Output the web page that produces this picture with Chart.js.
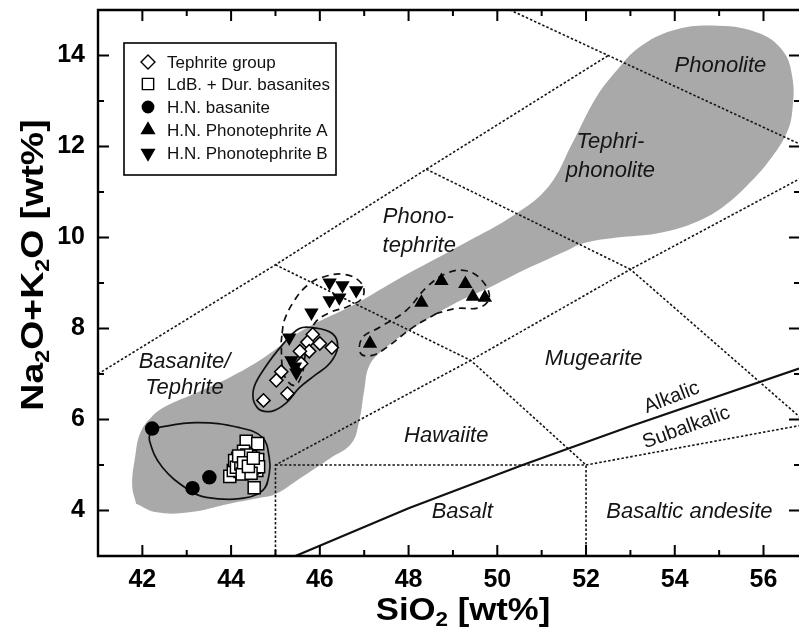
<!DOCTYPE html>
<html><head><meta charset="utf-8">
<script src="https://cdn.jsdelivr.net/npm/chart.js@4.4.1/dist/chart.umd.min.js"></script>
<style>html,body{margin:0;padding:0;background:#fff;overflow:hidden}canvas{display:block}</style>
</head><body><canvas id="c" width="799" height="631"></canvas>
<script>
// ---------- tick labels ----------
const xTicks = [42, 44, 46, 48, 50, 52, 54, 56];
const yTicks = [4, 6, 8, 10, 12, 14];

// ---------- sample series [SiO2, Na2O+K2O] ----------
const tephriteGroup = [[45.84,7.87],[46.00,7.67],[46.27,7.58],[45.72,7.70],[45.76,7.50],[45.55,7.50],[45.58,7.23],[45.13,7.05],[45.02,6.86],[45.27,6.57],[44.73,6.42]];
const ldbDurBasanites = [[44.34,5.52],[44.60,5.47],[44.28,5.30],[43.97,4.75],[44.52,4.50],[44.58,4.88],[44.10,5.00],[44.18,5.08],[44.25,4.93],[44.30,5.12],[44.36,5.00],[44.42,5.06],[44.47,4.92],[44.52,5.10],[44.44,5.18],[44.20,4.86],[44.33,4.84],[44.56,5.00],[44.15,5.15],[44.05,4.88],[44.08,5.10],[44.12,4.95],[44.22,5.02],[44.27,5.18],[44.32,4.95],[44.38,5.12],[44.40,4.88],[44.48,5.02],[44.53,4.95],[44.60,5.12],[44.62,4.96],[44.35,5.22],[44.25,4.80],[44.45,4.82],[44.17,5.20],[44.28,5.05],[44.39,4.97],[44.50,5.15]];
const hnBasanite = [[42.22,5.80],[43.13,4.49],[43.51,4.73]];
const hnPhonotephriteA = [[47.13,7.67],[48.29,8.57],[48.74,9.05],[49.28,8.98],[49.45,8.70],[49.72,8.68]];
const hnPhonotephriteB = [[46.22,9.01],[46.51,8.95],[46.82,8.84],[46.22,8.62],[46.44,8.68],[45.81,8.35],[45.31,7.80],[45.36,7.30],[45.44,7.16],[45.47,7.03]];

// ---------- field of literature data (grey area) ----------
const greyField = [[41.86,4.15],[41.77,4.55],[41.84,5.20],[41.95,5.70],[42.20,6.05],[42.55,6.30],[43.22,6.59],[43.96,6.92],[44.71,7.34],[45.61,7.96],[46.82,8.55],[47.79,9.10],[49.08,9.78],[50.43,10.53],[51.17,11.14],[51.69,12.07],[52.23,13.08],[52.69,13.67],[53.20,14.18],[53.95,14.55],[54.85,14.66],[55.84,14.51],[56.43,14.11],[56.65,13.52],[56.65,12.79],[56.52,12.29],[56.13,11.69],[55.68,11.19],[55.07,10.66],[54.40,10.31],[53.59,10.09],[52.69,10.00],[51.92,9.87],[51.56,9.71],[50.57,9.27],[49.82,8.90],[49.08,8.57],[48.09,8.00],[47.46,7.56],[47.12,7.19],[47.00,6.64],[46.89,5.98],[46.71,5.47],[46.22,5.14],[45.54,4.70],[45.02,4.37],[44.71,4.29],[43.96,4.15],[43.06,3.96],[42.32,3.96],[41.86,4.15]];

// ---------- group envelopes ----------
const basaniteEnvelope = [[42.20,5.80],[43.22,5.93],[44.19,5.82],[44.71,5.60],[44.86,5.16],[44.86,4.81],[44.71,4.44],[44.19,4.26],[43.44,4.29],[43.06,4.44],[42.45,4.95],[42.16,5.54],[42.20,5.80]];
const tephriteEnvelope = [[45.90,6.98],[45.54,6.70],[45.25,6.37],[44.91,6.18],[44.59,6.26],[44.50,6.64],[44.75,7.12],[45.20,7.69],[45.54,8.00],[45.83,8.02],[46.28,7.89],[46.40,7.58],[46.22,7.23],[45.90,6.98]];
const phonoBEnvelope = [[45.15,7.90],[45.20,8.18],[45.43,8.62],[45.72,8.95],[46.04,9.12],[46.55,9.19],[46.94,8.99],[46.96,8.68],[46.62,8.48],[46.22,8.35],[45.88,8.11],[45.70,7.63],[45.61,7.03],[45.43,6.75],[45.20,6.97],[45.13,7.63],[45.15,7.90]];
const phonoAEnvelope = [[48.63,8.33],[48.09,8.02],[47.50,7.58],[47.18,7.41],[46.92,7.45],[46.96,7.80],[47.34,8.02],[47.95,8.40],[48.40,8.90],[48.85,9.21],[49.30,9.27],[49.66,9.05],[49.82,8.68],[49.60,8.46],[49.08,8.44],[48.63,8.33]];

// ---------- TAS boundaries ----------
const tasBoundaries = [
  [[41,7],[45,9.4],[48.4,11.5],[52.5,14]],
  [[50,15.13],[52.5,14],[57.6,11.7]],
  [[48.4,11.5],[53,9.3],[57.6,11.7]],
  [[45,9.4],[49.4,7.3],[52,5],[52,3]],
  [[45,3],[45,5],[49.4,7.3],[53,9.3],[57,5.9]],
  [[45,5],[52,5],[57,5.9]]
];
const alkalicLine = [[45.45,3.0],[48.0,4.05],[50.57,5.0],[53.0,5.85],[56.8,7.12]];

// ---------- labels ----------
const regionNames = ["Phonolite","Tephri-","phonolite","Phono-","tephrite","Basanite/","Tephrite","Mugearite","Hawaiite","Basalt","Basaltic andesite"];
const regionX = [55.03,52.55,52.55,48.22,48.24,42.95,42.95,52.17,48.85,49.21,54.33];
const regionY = [13.78,12.11,11.47,10.46,9.82,7.27,6.70,7.34,5.63,3.96,3.96];
const seriesNames = ["Alkalic","Subalkalic"];
const seriesX = [53.93,54.26];
const seriesY = [6.48,5.82];
const seriesAngle = [-21,-20];

const legendNames = ["Tephrite group","LdB. + Dur. basanites","H.N. basanite","H.N. Phonotephrite A","H.N. Phonotephrite B"];

const FONT = '"Liberation Sans", Arial, Helvetica, sans-serif';
const pts = a => a.map(p => ({x: p[0], y: p[1]}));

const datasets = [];
datasets.push({label:'field', data: pts(greyField), showLine:true, pointRadius:0, fill:'shape', backgroundColor:'#a9a9a9', borderWidth:0, tension:0.4, order:100});
tasBoundaries.forEach(b => datasets.push({label:'tas', data: pts(b), showLine:true, pointRadius:0, borderColor:'#151515', borderWidth:1.6, borderDash:[2.5,2], tension:0, fill:false, order:60}));
datasets.push({label:'alk', data: pts(alkalicLine), showLine:true, pointRadius:0, borderColor:'#111', borderWidth:2.2, tension:0, fill:false, order:55});
[[basaniteEnvelope,[]],[tephriteEnvelope,[]],[phonoBEnvelope,[7,5]],[phonoAEnvelope,[7,5]]].forEach(([e,d]) =>
  datasets.push({label:'env', data: pts(e), showLine:true, pointRadius:0, borderColor:'#111', borderWidth:1.7, borderDash:d, tension:0.4, fill:false, order:40}));

const seriesDefs = [
  {name: legendNames[0], data: tephriteGroup, style:'rectRot', r:6.6, rot:0, fill:'#fff', lr:7},
  {name: legendNames[1], data: ldbDurBasanites, style:'rect', r:8.5, rot:0, fill:'#fff', lr:8},
  {name: legendNames[2], data: hnBasanite, style:'circle', r:6.5, rot:0, fill:'#000', lr:5.7},
  {name: legendNames[3], data: hnPhonotephriteA, style:'triangle', r:6.8, rot:0, fill:'#000', lr:7.3},
  {name: legendNames[4], data: hnPhonotephriteB, style:'triangle', r:6.8, rot:180, fill:'#000', lr:7.3}
];
seriesDefs.forEach((s, i) => datasets.push({label: s.name, data: pts(s.data), showLine:false, pointStyle: s.style, pointRadius: s.r, pointRotation: s.rot, pointBackgroundColor: s.fill, pointBorderColor:'#000', pointBorderWidth:1.5, order: 10 - i}));

function drawSymbol(ctx, style, x, y, r, rot, fill) {
  ctx.beginPath();
  if (style === 'circle') ctx.arc(x, y, r, 0, Math.PI * 2);
  else if (style === 'rect') { const s = r * Math.SQRT1_2; ctx.rect(x - s, y - s, 2 * s, 2 * s); }
  else if (style === 'rectRot') { ctx.moveTo(x, y - r); ctx.lineTo(x + r, y); ctx.lineTo(x, y + r); ctx.lineTo(x - r, y); ctx.closePath(); }
  else { const d = rot ? -1 : 1; ctx.moveTo(x, y - d * r); ctx.lineTo(x + r * 0.866, y + d * r * 0.5); ctx.lineTo(x - r * 0.866, y + d * r * 0.5); ctx.closePath(); }
  ctx.fillStyle = fill; ctx.fill(); ctx.lineWidth = 1.4; ctx.strokeStyle = '#000'; ctx.stroke();
}

function drawRich(ctx, segs, cx, cy, size, sx, rot) {
  ctx.save();
  ctx.translate(cx, cy); ctx.rotate(rot); ctx.scale(sx, 1);
  const big = 'bold ' + size + 'px ' + FONT;
  const small = 'bold ' + Math.round(size * 0.64) + 'px ' + FONT;
  let w = 0;
  segs.forEach(([t, sub]) => { ctx.font = sub ? small : big; w += ctx.measureText(t).width; });
  let x = -w / 2;
  ctx.textBaseline = 'alphabetic'; ctx.textAlign = 'left'; ctx.fillStyle = '#000';
  segs.forEach(([t, sub]) => { ctx.font = sub ? small : big; ctx.fillText(t, x, sub ? size * 0.2 : 0); x += ctx.measureText(t).width; });
  ctx.restore();
}

const decor = {
  id: 'decor',
  afterDatasetsDraw(chart) {
    const {ctx, chartArea: a, scales: {x, y}} = chart;
    ctx.save();
    // region labels
    ctx.fillStyle = '#151515'; ctx.textAlign = 'center'; ctx.textBaseline = 'middle';
    ctx.font = 'italic 22px ' + FONT;
    regionNames.forEach((t, i) => ctx.fillText(t, x.getPixelForValue(regionX[i]), y.getPixelForValue(regionY[i])));
    ctx.font = '20px ' + FONT;
    seriesNames.forEach((t, i) => {
      ctx.save();
      ctx.translate(x.getPixelForValue(seriesX[i]), y.getPixelForValue(seriesY[i]));
      ctx.rotate(seriesAngle[i] * Math.PI / 180);
      ctx.fillText(t, 0, 0);
      ctx.restore();
    });
    // frame
    ctx.strokeStyle = '#000'; ctx.lineWidth = 2.4; ctx.lineCap = 'butt';
    ctx.beginPath();
    ctx.moveTo(a.right + 2, a.top); ctx.lineTo(a.left, a.top); ctx.lineTo(a.left, a.bottom); ctx.lineTo(a.right + 2, a.bottom);
    ctx.stroke();
    // inward ticks
    ctx.lineWidth = 2;
    ctx.beginPath();
    for (let v = Math.ceil(x.min); v <= x.max; v++) {
      const px = x.getPixelForValue(v), L = v % 2 === 0 ? 11 : 6;
      ctx.moveTo(px, a.bottom); ctx.lineTo(px, a.bottom - L);
      ctx.moveTo(px, a.top); ctx.lineTo(px, a.top + L);
    }
    for (let v = Math.ceil(y.min) + 1; v < y.max; v++) {
      const py = y.getPixelForValue(v), L = v % 2 === 0 ? 11 : 6;
      ctx.moveTo(a.left, py); ctx.lineTo(a.left + L, py);
      ctx.moveTo(a.right + 1, py); ctx.lineTo(a.right + 1 - L, py);
    }
    ctx.stroke();
    // legend
    const lx = 124, ly = 43, lw = 212, lh = 132;
    ctx.fillStyle = '#fff'; ctx.fillRect(lx, ly, lw, lh);
    ctx.lineWidth = 1.6; ctx.strokeStyle = '#000'; ctx.strokeRect(lx, ly, lw, lh);
    const rows = [62, 84, 107, 130, 153];
    ctx.font = '17px ' + FONT; ctx.textAlign = 'left'; ctx.textBaseline = 'middle';
    seriesDefs.forEach((s, i) => {
      drawSymbol(ctx, s.style, 148, rows[i], s.lr, s.rot, s.fill);
      ctx.fillStyle = '#111';
      ctx.fillText(s.name, 167, rows[i] + 1);
    });
    ctx.restore();
  },
  afterDraw(chart) {
    const ctx = chart.ctx;
    drawRich(ctx, [['SiO', false], ['2', true], [' [wt%]', false]], 463, 620, 31, 1.12, 0);
    drawRich(ctx, [['Na', false], ['2', true], ['O+K', false], ['2', true], ['O [wt%]', false]], 43, 265, 32, 1.17, -Math.PI / 2);
  }
};

new Chart(document.getElementById('c').getContext('2d'), {
  type: 'scatter',
  data: {datasets},
  options: {
    responsive: false, animation: false, devicePixelRatio: 1,
    layout: {autoPadding: false, padding: {top: 10, right: 0, bottom: 0, left: 0}},
    plugins: {legend: {display: false}, tooltip: {enabled: false}},
    scales: {
      x: {
        type: 'linear', position: 'bottom', min: 41, max: 56.8,
        grid: {display: false, drawTicks: false}, border: {display: false},
        ticks: {color: '#000', padding: 9, font: {family: FONT, size: 25, weight: 'bold'}},
        afterBuildTicks: s => { s.ticks = xTicks.map(v => ({value: v})); },
        afterFit: s => { s.height = 75; s.paddingLeft = 0; s.paddingRight = 0; }
      },
      y: {
        type: 'linear', position: 'left', min: 3, max: 15,
        grid: {display: false, drawTicks: false}, border: {display: false},
        ticks: {color: '#000', padding: 13, font: {family: FONT, size: 25, weight: 'bold'}},
        afterBuildTicks: s => { s.ticks = yTicks.map(v => ({value: v})); },
        afterFit: s => { s.width = 98; s.paddingTop = 0; s.paddingBottom = 0; }
      }
    }
  },
  plugins: [decor]
});
</script>
</body></html>
